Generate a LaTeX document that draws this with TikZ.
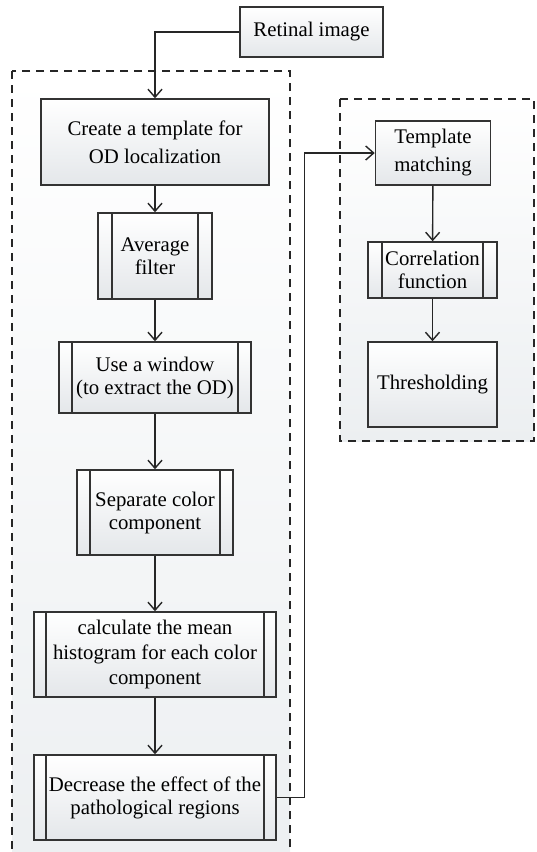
\documentclass[tikz,border=0pt]{standalone}
\usepackage{fontspec}
\setmainfont{Liberation Serif}
\usetikzlibrary{arrows.meta}
\definecolor{boxbot}{RGB}{228,231,234}
\definecolor{areabot}{RGB}{236,239,241}

\begin{document}
\begin{tikzpicture}[x=0.5pt,y=-0.5pt,
  procbox/.style={draw=black!80, line width=0.75pt, top color=white, bottom color=boxbot,
    inner sep=0pt, align=center, font=\fontsize{10.4}{11.5}\selectfont},
  wide/.style={font=\fontsize{10.4}{14}\selectfont},
  subproc/.style={procbox, path picture={
    \draw[black!80, line width=0.75pt]
      ([xshift=#1]path picture bounding box.north west) -- ([xshift=#1]path picture bounding box.south west)
      ([xshift=-#1]path picture bounding box.north east) -- ([xshift=-#1]path picture bounding box.south east);}},
  subproc/.default=6.5pt,
  area/.style={draw=black!85, dashed, dash pattern=on 4pt off 3pt, line width=0.6pt, top color=white, bottom color=areabot},
  arr/.style={-{Straight Barb[length=4pt,width=7pt]}, line width=0.7pt, black!85}]
\useasboundingbox (0,0) rectangle (536,852);
\clip (0,0) rectangle (536,852);

% Dashed areas
\draw[area] (12,71) rectangle (290,880);
\draw[area] (340,99) rectangle (534,441);

% Left column
\node[procbox, minimum width=71.5pt, minimum height=25pt] (ret) at (311.5,32) {Retinal image};
\node[procbox, wide, minimum width=114pt, minimum height=43pt] (create) at (155,142) {Create a template for\\OD localization};
\node[subproc=7pt, minimum width=57pt, minimum height=43pt] (avg) at (155,256) {Average\\filter};
\node[subproc, minimum width=96pt, minimum height=35.5pt] (win) at (155,377.5) {Use a window\\(to extract the OD)};
\node[subproc, minimum width=78pt, minimum height=42.5pt] (sep) at (155,512.5) {Separate color\\component};
\node[subproc=6pt, font=\fontsize{10.4}{12.3}\selectfont, minimum width=121pt, minimum height=42.5pt] (mean) at (155,654.5) {calculate the mean\\histogram for each color\\component};
\node[subproc=6pt, minimum width=121pt, minimum height=42.5pt] (dec) at (155,797.5) {Decrease the effect of the\\pathological regions};

% Right column
\node[procbox, wide, minimum width=57.5pt, minimum height=32pt] (tm) at (433,153) {Template\\matching};
\node[subproc=7pt, minimum width=64.5pt, minimum height=28pt] (corr) at (432.5,270) {Correlation\\function};
\node[procbox, minimum width=64.5pt, minimum height=42.5pt] (thr) at (432.5,384.5) {Thresholding};

% Connectors
\draw[arr] (ret.west) -| (create.north);
\draw[arr] (create) -- (avg);
\draw[arr] (avg) -- (win);
\draw[arr] (win) -- (sep);
\draw[arr] (sep) -- (mean);
\draw[arr] (mean) -- (dec);
\draw[arr] (dec.east) -- ++(28,0) |- (tm.west);
\draw[arr] (tm) -- (corr);
\draw[arr] (corr) -- (thr);
\end{tikzpicture}
\end{document}
